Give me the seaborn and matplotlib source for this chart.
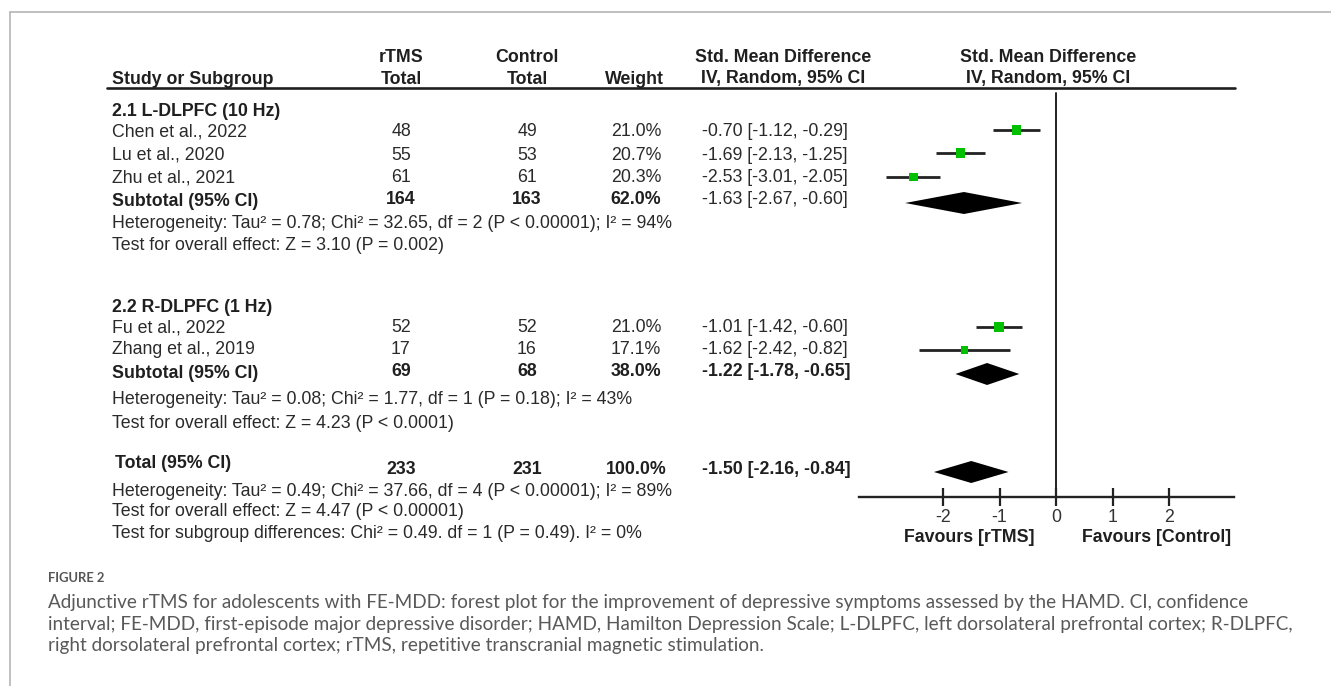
import matplotlib
matplotlib.use("Agg")
import matplotlib.pyplot as plt
import seaborn as sns
import pandas as pd

# ---- data ----
studies = ["Chen et al., 2022", "Lu et al., 2020", "Zhu et al., 2021",
           "Fu et al., 2022", "Zhang et al., 2019"]
rtms_total = [48, 55, 61, 52, 17]
ctrl_total = [49, 53, 61, 52, 16]
weights = [21.0, 20.7, 20.3, 21.0, 17.1]
smd = [-0.70, -1.69, -2.53, -1.01, -1.62]
ci_low = [-1.12, -2.13, -3.01, -1.42, -2.42]
ci_high = [-0.29, -1.25, -2.05, -0.60, -0.82]

groups = ["2.1 L-DLPFC (10 Hz)", "2.2 R-DLPFC (1 Hz)"]
summary_labels = ["Subtotal (95% CI)", "Subtotal (95% CI)", "Total (95% CI)"]
summary_rtms = [164, 69, 233]
summary_ctrl = [163, 68, 231]
summary_weight = [62.0, 38.0, 100.0]
summary_smd = [-1.63, -1.22, -1.50]
summary_low = [-2.67, -1.78, -2.16]
summary_high = [-0.60, -0.65, -0.84]

stats_lines = [
    "Heterogeneity: Tau² = 0.78; Chi² = 32.65, df = 2 (P < 0.00001); I² = 94%",
    "Test for overall effect: Z = 3.10 (P = 0.002)",
    "Heterogeneity: Tau² = 0.08; Chi² = 1.77, df = 1 (P = 0.18); I² = 43%",
    "Test for overall effect: Z = 4.23 (P < 0.0001)",
    "Heterogeneity: Tau² = 0.49; Chi² = 37.66, df = 4 (P < 0.00001); I² = 89%",
    "Test for overall effect: Z = 4.47 (P < 0.00001)",
    "Test for subgroup differences: Chi² = 0.49. df = 1 (P = 0.49). I² = 0%",
]
x_ticks = [-2, -1, 0, 1, 2]

caption_title = "FIGURE 2"
caption_lines = [
    "Adjunctive rTMS for adolescents with FE-MDD: forest plot for the improvement of depressive symptoms assessed by the HAMD. CI, confidence",
    "interval; FE-MDD, first-episode major depressive disorder; HAMD, Hamilton Depression Scale; L-DLPFC, left dorsolateral prefrontal cortex; R-DLPFC,",
    "right dorsolateral prefrontal cortex; rTMS, repetitive transcranial magnetic stimulation.",
]

# ---- layout (pixel rows of the page) ----
W, H = 1331, 686
group_y = [110, 305]
study_y = [130, 153, 176, 326, 348]
marker_y = [130, 153, 177, 327, 350]
summary_y = [200, 371, 462]
summary_num_y = [197, 370, 468]
diamond_y = [203, 374, 472]
stats_y = [222, 243, 397, 421, 489, 510, 531]

sns.set_theme(style="white")
plt.rcParams["font.family"] = ["Liberation Sans", "DejaVu Sans"]
plt.rcParams["axes.unicode_minus"] = False

fig = plt.figure(figsize=(W / 100, H / 100), dpi=100)

tab = fig.add_axes([0, 0, 1, 1])
tab.set_xlim(0, W)
tab.set_ylim(H, 0)
tab.axis("off")

ax_left, ax_right, ax_top, ax_bottom = 859, 1234, 87, 497
zero_px, px_unit = 1056, 56.5
ax = fig.add_axes([ax_left / W, 1 - ax_bottom / H,
                   (ax_right - ax_left) / W, (ax_bottom - ax_top) / H])
ax.patch.set_alpha(0)
ax.set_xlim((ax_left - zero_px) / px_unit, (ax_right - zero_px) / px_unit)
ax.set_ylim(ax_bottom, ax_top)

fs = 12.8
ink = "#1f1f1f"
va = "center_baseline"

# page frame
tab.plot([10, W], [12, 12], color="#b5b5b5", lw=1.2)
tab.plot([10, 10], [12, H], color="#b5b5b5", lw=1.2)

# header
hdr = dict(fontsize=fs, fontweight="bold", color=ink, va=va)
tab.text(112, 77, "Study or Subgroup", ha="left", **hdr)
tab.text(401, 55, "rTMS", ha="center", **hdr)
tab.text(401, 77, "Total", ha="center", **hdr)
tab.text(527, 55, "Control", ha="center", **hdr)
tab.text(527, 77, "Total", ha="center", **hdr)
tab.text(634, 77, "Weight", ha="center", **hdr)
for cx in (783, 1048):
    tab.text(cx, 55, "Std. Mean Difference", ha="center", **hdr)
    tab.text(cx, 77, "IV, Random, 95% CI", ha="center", **hdr)
tab.plot([107, 1235], [88, 88], color=ink, lw=1.9)

# group labels
for g, y in zip(groups, group_y):
    tab.text(112, y, g, ha="left", **hdr)

# study rows
body = dict(fontsize=fs, color="#2a2a2a", va=va)
for i, name in enumerate(studies):
    y = study_y[i]
    tab.text(112, y, name, ha="left", **body)
    tab.text(401, y, str(rtms_total[i]), ha="center", **body)
    tab.text(527, y, str(ctrl_total[i]), ha="center", **body)
    tab.text(636, y, f"{weights[i]:.1f}%", ha="center", **body)
    tab.text(702, y, f"{smd[i]:.2f} [{ci_low[i]:.2f}, {ci_high[i]:.2f}]", ha="left", **body)

# subtotal / total rows
for i, lab in enumerate(summary_labels):
    x_lab = 115 if i == 2 else 112
    tab.text(x_lab, summary_y[i], lab, ha="left", **hdr)
    yn = summary_num_y[i]
    tab.text(401, yn, str(summary_rtms[i]), ha="center", **hdr)
    tab.text(527, yn, str(summary_ctrl[i]), ha="center", **hdr)
    tab.text(636, yn, f"{summary_weight[i]:.1f}%", ha="center", **hdr)
    ci_style = body if i == 0 else hdr
    tab.text(702, yn, f"{summary_smd[i]:.2f} [{summary_low[i]:.2f}, {summary_high[i]:.2f}]",
             ha="left", **ci_style)

for line, y in zip(stats_lines, stats_y):
    tab.text(112, y, line, ha="left", **body)

# ---- forest panel ----
df = pd.DataFrame({"smd": smd, "lo": ci_low, "hi": ci_high, "w": weights, "y": marker_y})
ax.hlines(df["y"], df["lo"], df["hi"], color="#222222", lw=2.0, zorder=2)
sns.scatterplot(data=df, x="smd", y="y", size="w", sizes=(30, 44), size_norm=(17.1, 21.0),
                marker="s", color="#00c000", edgecolor="none", linewidth=0,
                legend=False, ax=ax, zorder=3)

for est, lo, hi, y in zip(summary_smd, summary_low, summary_high, diamond_y):
    ax.fill([lo, est, hi, est], [y, y - 11, y, y + 11], color="black", lw=0, zorder=3)

ax.plot([0, 0], [93, ax_bottom], color="#222222", lw=1.4, zorder=1)

ax.set_xticks(x_ticks)
ax.set_yticks([])
ax.set_xlabel("")
ax.set_ylabel("")
sns.despine(ax=ax, left=True, top=True, right=True)
ax.spines["bottom"].set_linewidth(1.7)
ax.spines["bottom"].set_color("#222222")
ax.tick_params(axis="x", direction="inout", length=13, width=1.6, color="#222222",
               labelsize=fs, labelcolor="#333333", pad=2, bottom=True)

ftxt = dict(fontsize=fs, fontweight="bold", color=ink, va=va, ha="center")
tab.text(969, 535, "Favours [rTMS]", **ftxt)
tab.text(1157, 535, "Favours [Control]", **ftxt)

# ---- caption ----
cap_font = ["Lato", "DejaVu Sans"]
t_title = tab.text(48, 577, caption_title, fontsize=10, fontweight="bold",
                   color="#555555", family=cap_font, ha="left", va=va)
cap_texts = []
for line, y in zip(caption_lines, [601, 623, 644]):
    cap_texts.append(tab.text(48, y, line, fontsize=12, color="#595959",
                              family=cap_font, ha="left", va=va))

# fit caption widths to the reference
fig.canvas.draw()
r = fig.canvas.get_renderer()
wd = cap_texts[1].get_window_extent(r).width
cap_fs = 12 * (1285 - 48) / wd
for t in cap_texts:
    t.set_fontsize(cap_fs)
wt = t_title.get_window_extent(r).width
t_title.set_fontsize(10 * (105 - 48) / wt)

fig.savefig("out.png", dpi=100)
